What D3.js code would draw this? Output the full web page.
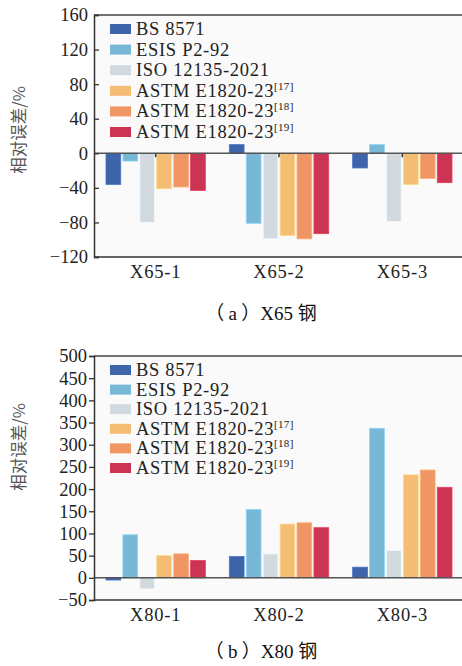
<!DOCTYPE html>
<html>
<head>
<meta charset="utf-8">
<script src="https://cdn.jsdelivr.net/npm/d3@7"></script>
<style>
  body { margin: 0; background: #fff; }
  svg { display: block; }
</style>
</head>
<body>
<div id="chart"></div>
<script>
(function(d3) {
    'use strict';

    // data
    var seriesNames = ['BS 8571', 'ESIS P2-92', 'ISO 12135-2021', 'ASTM E1820-23', 'ASTM E1820-23', 'ASTM E1820-23'];
    var seriesRefs = ['', '', '', '[17]', '[18]', '[19]'];
    var colors = ['#3e64ab', '#79b7d7', '#d2dae0', '#f5bc74', '#f09664', '#cb3452'];

    var categories65 = ['X65-1', 'X65-2', 'X65-3'];
    var bs65 = [-36, 10, -17];
    var esis65 = [-9, -81, 10];
    var iso65 = [-80, -99, -79];
    var astm17_65 = [-41, -95, -36];
    var astm18_65 = [-39, -99, -29];
    var astm19_65 = [-43, -93, -34];
    var ticks65 = [-120, -80, -40, 0, 40, 80, 120, 160];

    var categories80 = ['X80-1', 'X80-2', 'X80-3'];
    var bs80 = [-5, 48, 24];
    var esis80 = [97, 154, 337];
    var iso80 = [-25, 54, 62];
    var astm17_80 = [50, 121, 232];
    var astm18_80 = [54, 124, 243];
    var astm19_80 = [39, 113, 204];
    var ticks80 = [-50, 0, 50, 100, 150, 200, 250, 300, 350, 400, 450, 500];

    var width = 462,
        height = 666;

    var serif = '"Liberation Serif", "Times New Roman", serif';
    var cjk = '"Noto Sans CJK SC", sans-serif';

    var svg = d3.select('#chart').append('svg')
        .attr('width', width)
        .attr('height', height);

    function drawPanel(opts) {
        var left = 94, right = 464;
        var g = svg.append('g');

        var y = d3.scaleLinear().domain(opts.domain).range([opts.bottom, opts.top]);
        var x0 = d3.scaleBand().domain(opts.categories).range([left, right]);
        var x1 = d3.scaleBand().domain(d3.range(seriesNames.length))
            .range([12, x0.bandwidth() - 12])
            .paddingInner(0.13);

        // plot background
        g.append('rect')
            .attr('x', left).attr('y', opts.top)
            .attr('width', width - left).attr('height', opts.bottom - opts.top)
            .attr('fill', '#fafafa');

        // bars
        var rows = [];
        opts.series.forEach(function(vals, si) {
            vals.forEach(function(v, ci) {
                rows.push({ s: si, c: opts.categories[ci], v: v });
            });
        });

        g.selectAll('rect.bar')
            .data(rows)
            .enter().append('rect')
            .attr('class', 'bar')
            .attr('x', function(d) { return x0(d.c) + x1(d.s); })
            .attr('y', function(d) { return Math.min(y(d.v), y(0)); })
            .attr('width', x1.bandwidth())
            .attr('height', function(d) { return Math.abs(y(d.v) - y(0)); })
            .attr('fill', function(d) { return colors[d.s]; })
            .attr('stroke', function(d) { return d3.color(colors[d.s]).brighter(0.4); })
            .attr('stroke-width', 0.8);

        // zero line
        g.append('line')
            .attr('x1', left).attr('x2', width)
            .attr('y1', y(0)).attr('y2', y(0))
            .attr('stroke', '#555').attr('stroke-width', 1.5);

        if (opts.zeroTicks) {
            g.selectAll('line.zt')
                .data(opts.categories)
                .enter().append('line')
                .attr('x1', function(d) { return x0(d) + x0.bandwidth() / 2; })
                .attr('x2', function(d) { return x0(d) + x0.bandwidth() / 2; })
                .attr('y1', y(0)).attr('y2', y(0) + 4)
                .attr('stroke', '#333').attr('stroke-width', 1.5);
        }

        // frame top and bottom
        g.append('line')
            .attr('x1', left).attr('x2', width)
            .attr('y1', opts.top).attr('y2', opts.top)
            .attr('stroke', '#444').attr('stroke-width', 1.5);
        g.append('line')
            .attr('x1', left).attr('x2', width)
            .attr('y1', opts.bottom).attr('y2', opts.bottom)
            .attr('stroke', '#333').attr('stroke-width', 1.5);

        // y axis
        var yAxis = d3.axisLeft(y)
            .tickValues(opts.ticks)
            .tickSize(opts.tickIn ? -5 : 5)
            .tickPadding(opts.tickIn ? 6 : 2)
            .tickFormat(function(d) { return d < 0 ? '\u2212' + Math.abs(d) : d; });

        var ya = g.append('g')
            .attr('transform', 'translate(' + left + ',0)')
            .call(yAxis);
        ya.select('.domain').attr('stroke', '#333').attr('stroke-width', 1.5);
        ya.selectAll('.tick line').attr('stroke', '#333').attr('stroke-width', 1.3);
        ya.selectAll('.tick text')
            .attr('fill', '#222')
            .style('font-family', serif)
            .style('font-size', '18.5px');

        // x labels
        g.selectAll('text.xl')
            .data(opts.categories)
            .enter().append('text')
            .attr('class', 'xl')
            .attr('x', function(d) { return x0(d) + x0.bandwidth() / 2; })
            .attr('y', opts.bottom + 21)
            .attr('text-anchor', 'middle')
            .attr('fill', '#222')
            .style('font-family', serif)
            .style('font-size', '18.5px')
            .style('letter-spacing', '0.8px')
            .text(function(d) { return d; });

        // y title
        g.append('text')
            .attr('transform', 'translate(25,' + opts.titleY + ') rotate(-90)')
            .attr('text-anchor', 'middle')
            .attr('fill', '#555')
            .style('font-family', cjk)
            .style('font-size', '16.5px')
            .text('相对误差/%');

        // legend
        var legend = g.selectAll('.legend')
            .data(seriesNames)
            .enter().append('g')
            .attr('class', 'legend')
            .attr('transform', function(d, i) {
                return 'translate(110,' + (opts.legendY + i * opts.legendStep) + ')';
            });

        legend.append('rect')
            .attr('x', 0).attr('y', -5)
            .attr('width', 21).attr('height', 10)
            .attr('fill', function(d, i) { return colors[i]; });

        var lt = legend.append('text')
            .attr('x', 26).attr('y', 6)
            .attr('fill', '#222')
            .style('font-family', serif)
            .style('font-size', '18.5px')
            .style('letter-spacing', '0.7px');
        lt.append('tspan').text(function(d) { return d; });
        lt.append('tspan')
            .attr('dy', -7)
            .style('font-size', '11px')
            .style('letter-spacing', '0.3px')
            .text(function(d, i) { return seriesRefs[i]; });

        // caption
        var cap = g.append('text')
            .attr('x', 261).attr('y', opts.captionY)
            .attr('text-anchor', 'middle')
            .attr('fill', '#111')
            .style('font-family', serif)
            .style('font-size', '19px');
        cap.append('tspan').style('font-family', cjk).text('（ ');
        cap.append('tspan').text(opts.captionLetter);
        cap.append('tspan').style('font-family', cjk).text(' ）');
        cap.append('tspan').text(opts.captionSteel + ' ');
        cap.append('tspan').style('font-family', cjk).text('钢');
    }

    drawPanel({
        categories: categories65,
        series: [bs65, esis65, iso65, astm17_65, astm18_65, astm19_65],
        domain: [-120, 160],
        ticks: ticks65,
        top: 15, bottom: 257,
        tickIn: true,
        zeroTicks: true,
        titleY: 130,
        legendY: 29,
        legendStep: 20.6,
        captionY: 320,
        captionLetter: 'a',
        captionSteel: 'X65'
    });

    drawPanel({
        categories: categories80,
        series: [bs80, esis80, iso80, astm17_80, astm18_80, astm19_80],
        domain: [-50, 500],
        ticks: ticks80,
        top: 356, bottom: 600,
        tickIn: false,
        zeroTicks: false,
        titleY: 447,
        legendY: 370,
        legendStep: 19.6,
        captionY: 658,
        captionLetter: 'b',
        captionSteel: 'X80'
    });

})(window.d3);
</script>
</body>
</html>
